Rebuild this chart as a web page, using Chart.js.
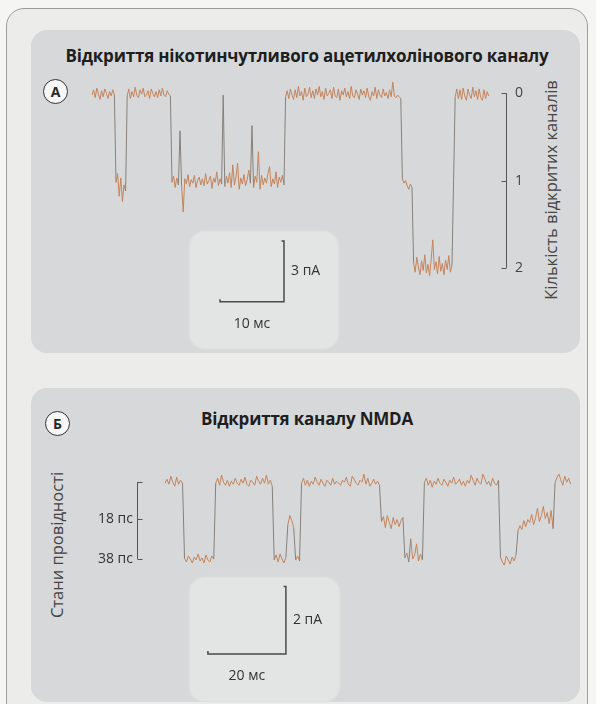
<!DOCTYPE html>
<html lang="uk">
<head>
<meta charset="utf-8">
<title>Відкриття каналів</title>
<script src="https://cdn.jsdelivr.net/npm/chart.js@4.4.1/dist/chart.umd.min.js"></script>
<style>
  html, body { margin: 0; padding: 0; }
  body {
    width: 596px; height: 704px; overflow: hidden; position: relative;
    background: #f5f5f3; color: #2a2a2a;
    font-family: "Open Sans", "Noto Sans", sans-serif;
  }
  .frame {
    position: absolute; left: 6px; top: 8px; width: 580px; height: 720px;
    border: 1px solid #9c9c9c; border-radius: 18px; background: #ececea;
  }
  .panel { position: absolute; background: #d6d8d9; border-radius: 16px; }
  .bar-box { position: absolute; background: #e3e5e5; border-radius: 16px; filter: blur(1px); }
  .title {
    position: absolute; transform: translate(-50%, -50%);
    font-weight: 700; font-size: 17px; letter-spacing: -0.2px; white-space: nowrap; color: #1e1e1e;
  }
  .badge {
    position: absolute; width: 23px; height: 23px; margin: -13px 0 0 -13px;
    border: 1.5px solid #333; border-radius: 50%; background: #f7f7f7;
    font-weight: 700; font-size: 14px; line-height: 23px; text-align: center;
  }
  .side-label {
    position: absolute; transform: translate(-50%, -50%) rotate(-90deg);
    font-size: 16.5px; color: #444; white-space: nowrap;
  }
  canvas { position: absolute; }
</style>
</head>
<body>
<div class="frame"></div>

<div class="panel" style="left:31px; top:30px; width:549px; height:323px;"></div>
<div class="bar-box" style="left:189px; top:231px; width:150px; height:118px;"></div>
<div class="title" style="left:307px; top:55px;">Відкриття нікотинчутливого ацетилхолінового каналу</div>
<div class="badge" style="left:56px; top:92px;">А</div>
<div class="side-label" style="left:550px; top:190px;">Кількість відкритих каналів</div>

<div class="panel" style="left:31px; top:388px; width:549px; height:314px;"></div>
<div class="bar-box" style="left:189px; top:577px; width:151px; height:125px;"></div>
<div class="title" style="left:307px; top:418px;">Відкриття каналу NMDA</div>
<div class="badge" style="left:58px; top:424px;">Б</div>
<div class="side-label" style="left:56px; top:545px;">Стани провідності</div>

<canvas id="chartA" width="500" height="314" style="left:80px; top:48px;"></canvas>
<canvas id="chartB" width="550" height="284" style="left:30px; top:428px;"></canvas>

<script>
// nicotinic ACh channel: number of open channels, one sample every 0.25 ms
const SAMPLE_A_MS = 0.25;
const traceAOpen = [
  0.02, -0.04, 0.05, -0.06, 0.01, 0.07, -0.03, 0.04, -0.05, 0.00,
  0.06, -0.02, 0.03, -0.04, 0.02, 1.02, 0.92, 1.18, 0.97, 1.24,
  1.05, 1.12, 0.03, -0.05, 0.06, -0.02, 0.04, -0.07, 0.02, 0.05,
  -0.04, 0.01, -0.06, 0.04, 0.02, -0.03, 0.06, -0.05, 0.00, 0.04,
  -0.02, 0.05, -0.04, 0.03, -0.06, 0.02, 0.04, -0.03, 0.01, 0.03,
  1.02, 0.95, 1.08, 0.97, 1.05, 0.43, 1.06, 1.36, 0.98, 1.04,
  0.93, 1.07, 0.99, 1.03, 0.94, 1.08, 1.00, 0.96, 1.05, 0.98,
  1.06, 0.92, 1.04, 1.00, 0.95, 1.09, 0.97, 1.02, 0.90, 1.06,
  0.98, 1.04, 0.02, 1.07, 0.95, 1.03, 0.91, 1.08, 0.82, 1.05,
  0.96, 0.80, 1.10, 0.97, 1.04, 0.93, 1.06, 0.99, 0.88, 1.03,
  0.37, 1.08, 0.95, 1.02, 0.67, 1.10, 0.94, 1.05, 0.97, 1.03,
  0.92, 0.84, 1.07, 0.98, 1.04, 0.90, 1.08, 0.96, 1.02, 0.94,
  1.05, 0.04, -0.03, 0.06, -0.05, 0.02, 0.07, -0.04, 0.05, -0.08,
  0.03, -0.02, 0.08, -0.06, 0.04, 0.01, -0.07, 0.05, -0.03, 0.06,
  -0.05, 0.02, -0.08, 0.04, -0.02, 0.07, -0.06, 0.03, 0.00, -0.04,
  0.06, -0.07, 0.03, 0.05, -0.05, 0.08, -0.03, 0.02, -0.06, 0.04,
  -0.02, 0.06, -0.08, 0.03, 0.05, -0.04, 0.01, 0.07, -0.05, 0.02,
  -0.03, 0.05, -0.06, 0.04, 0.08, -0.02, 0.03, -0.07, 0.06, -0.04,
  0.02, 0.05, -0.05, 0.03, -0.01, 0.06, -0.04, 0.04, -0.13, 0.03,
  0.05, 0.02, 0.04, 0.06, 0.98, 1.03, 1.00, 1.06, 1.10, 1.04,
  1.08, 1.94, 2.05, 1.88, 1.99, 2.08, 1.92, 2.03, 1.85, 2.06,
  1.96, 2.09, 1.90, 1.68, 2.02, 1.93, 2.07, 1.87, 2.04, 1.95,
  2.08, 1.91, 2.02, 1.86, 2.05, 1.97, 1.00, 0.04, -0.05, 0.06,
  -0.04, 0.07, -0.06, 0.03, 0.08, -0.05, 0.02, 0.06, -0.07, 0.04,
  -0.03, 0.07, -0.05, 0.05, 0.08, -0.04, 0.06, -0.02, 0.03
];
const channelTicks = [0, 1, 2];

// NMDA channel: conductance state in pS, one sample every 0.5 ms
const SAMPLE_B_MS = 0.5;
const traceBConductance = [
  0.5, -1.5, 1.0, -3.0, 0.0, 2.0, -2.5, 1.0, -1.0, 0.5,
  37.5, 39.5, 36.5, 38.0, 40.0, 37.0, 38.5, 35.5, 39.0, 37.5,
  40.0, 36.0, 38.5, 39.5, 36.5, 38.0, 0.5, -2.0, 1.5, -3.5,
  0.0, 1.5, -1.0, 2.0, -0.5, 1.0, -2.0, 0.5, 1.5, -1.5,
  0.5, -2.5, 1.0, 2.0, -1.0, 0.0, 1.5, -3.0, -0.5, 1.0,
  -2.0, 0.5, -3.5, 1.0, -1.0, 2.0, 38.5, 36.0, 39.5, 35.5,
  38.0, 40.0, 37.0, 21.0, 16.5, 19.0, 22.5, 38.5, 36.5, 39.0,
  0.5, -2.0, 1.5, -1.0, 2.0, -0.5, 1.0, -2.5, 0.0, 1.5,
  -1.5, 0.5, 2.0, -1.0, 0.0, 1.5, -2.0, 1.0, -0.5, 0.5,
  1.5, -1.0, 0.0, -2.5, 1.0, 2.0, -3.0, -1.5, 0.5, 1.5,
  -1.0, 0.0, -4.0, 1.0, -2.0, 2.0, 0.5, -1.5, 1.0, -0.5,
  1.5, 19.5, 17.0, 22.5, 16.5, 20.0, 23.0, 17.5, 21.0, 18.5,
  22.0, 19.0, 17.5, 37.5, 35.0, 39.5, 28.0, 38.0, 36.0, 30.5,
  39.0, 35.5, 38.5, 0.0, -2.0, 1.5, -1.0, 2.5, -0.5, 1.0,
  -2.0, 0.5, 1.5, -1.5, 0.0, 2.0, -1.0, 0.5, -2.5, 1.0,
  0.0, -1.5, 1.5, -0.5, 2.0, -1.0, 0.5, -3.5, -1.0, 1.5,
  -2.0, 0.0, 1.0, -4.0, -1.5, 1.0, -0.5, 2.0, -2.0, 0.5,
  1.5, -1.0, 37.0, 39.5, 41.0, 36.5, 38.5, 40.5, 37.0, 39.0,
  36.0, 24.0, 21.5, 23.5, 19.0, 22.0, 18.5, 20.0, 16.0, 21.0,
  17.5, 13.0, 19.5, 16.5, 12.0, 18.0, 15.0, 20.5, 14.0, 23.0,
  0.5, -2.5, -4.0, -1.0, 1.5, -3.0, 0.0, -2.0, 1.0
];
const conductanceTicks = [18, 38];

// calibration bars
const PA_PER_CHANNEL = 4.3;
const DRIVING_FORCE_MV = 60;
const scaleBarATime = [20, 30];   // ms
const scaleBarACurrent = 3;       // pA
const scaleBarABase = 2.39;       // open channels
const scaleBarBTime = [11, 31];   // ms
const scaleBarBCurrent = 2;       // pA
const scaleBarBBase = 85;         // pS

const NOISE_COLOR = '#c4845c';
const JUMP_COLOR = '#86807b';
const BAR_COLOR = '#4a4a4a';

// builds the L-shaped calibration bar, with the little end ticks
function calibrationBar(time, base, height, tickX, tickY) {
  const top = base - height;
  return [
    { x: time[0], y: base - tickY },
    { x: time[0], y: base },
    { x: time[1], y: base },
    { x: time[1], y: top },
    { x: time[1] - tickX, y: top }
  ];
}

// axis line with short ticks plus the calibration bar captions
const traceMarks = {
  id: 'traceMarks',
  afterDatasetsDraw(chart, args, opts) {
    const { ctx, chartArea } = chart;
    const x = chart.scales.x;
    const y = chart.scales.y;
    const ax = (opts.side === 'right' ? chartArea.right : chartArea.left) + 0.5;
    ctx.save();
    ctx.strokeStyle = '#555';
    ctx.lineWidth = 1;
    ctx.beginPath();
    ctx.moveTo(ax, y.getPixelForValue(opts.range[0]));
    ctx.lineTo(ax, y.getPixelForValue(opts.range[1]));
    opts.marks.forEach(v => {
      const py = Math.round(y.getPixelForValue(v)) + 0.5;
      ctx.moveTo(ax, py);
      ctx.lineTo(ax + opts.tickDir * 5, py);
    });
    ctx.stroke();

    const bar = opts.bar;
    const xl = x.getPixelForValue(bar.time[0]);
    const xr = x.getPixelForValue(bar.time[1]);
    const yb = y.getPixelForValue(bar.base);
    const yt = y.getPixelForValue(bar.base - bar.height);
    ctx.fillStyle = '#333';
    ctx.font = '14px "Open Sans"';
    ctx.textBaseline = 'middle';
    ctx.textAlign = 'left';
    ctx.fillText(bar.currentLabel, xr + 7, (yb + yt) / 2);
    ctx.textAlign = 'center';
    ctx.fillText(bar.timeLabel, (xl + xr) / 2, yb + 22);
    ctx.restore();
  }
};

function traceDataset(values, dt, jump) {
  return {
    data: values.map((v, i) => ({ x: i * dt, y: v })),
    borderColor: NOISE_COLOR,
    borderWidth: 1,
    pointRadius: 0,
    tension: 0,
    segment: {
      borderColor: c => Math.abs(c.p1.parsed.y - c.p0.parsed.y) > jump ? JUMP_COLOR : NOISE_COLOR
    }
  };
}

function barDataset(points) {
  return { data: points, borderColor: BAR_COLOR, borderWidth: 1.5, pointRadius: 0, tension: 0 };
}

const tickFont = { family: 'Open Sans', size: 14 };

// A: nicotinic ACh channel
const barAHeight = scaleBarACurrent / PA_PER_CHANNEL;
new Chart(document.getElementById('chartA'), {
  type: 'line',
  data: {
    datasets: [
      traceDataset(traceAOpen, SAMPLE_A_MS, 0.45),
      barDataset(calibrationBar(scaleBarATime, scaleBarABase, barAHeight, 0.4, 0.03))
    ]
  },
  options: {
    responsive: false,
    animation: false,
    devicePixelRatio: 1,
    layout: { padding: { left: 12, top: 12, bottom: 12, right: 0 } },
    scales: {
      x: { type: 'linear', display: false, min: 0, max: 64.69 },
      y: {
        type: 'linear', position: 'right', reverse: true, min: -0.32, max: 2.88,
        afterFit: s => { s.width = 74; },
        afterBuildTicks: s => { s.ticks = channelTicks.map(v => ({ value: v })); },
        grid: { display: false, drawTicks: false },
        border: { display: false },
        ticks: { padding: 9, color: '#444', font: tickFont }
      }
    },
    plugins: {
      legend: { display: false },
      tooltip: { enabled: false },
      traceMarks: {
        side: 'right', tickDir: -1, range: [0, 2], marks: channelTicks,
        bar: { time: scaleBarATime, base: scaleBarABase, height: barAHeight,
               currentLabel: scaleBarACurrent + ' пА', timeLabel: (scaleBarATime[1] - scaleBarATime[0]) + ' мс' }
      }
    }
  },
  plugins: [traceMarks]
});

// B: NMDA channel, current = conductance x driving force
const barBHeight = scaleBarBCurrent / DRIVING_FORCE_MV * 1000;
new Chart(document.getElementById('chartB'), {
  type: 'line',
  data: {
    datasets: [
      traceDataset(traceBConductance, SAMPLE_B_MS, 10),
      barDataset(calibrationBar(scaleBarBTime, scaleBarBBase, barBHeight, 0.6, 1.5))
    ]
  },
  options: {
    responsive: false,
    animation: false,
    devicePixelRatio: 1,
    layout: { padding: { left: 0, top: 12, bottom: 12, right: 0 } },
    scales: {
      x: { type: 'linear', display: false, min: -7.18, max: 106.4 },
      y: {
        type: 'linear', position: 'left', reverse: true, min: -20.7, max: 107.6,
        afterFit: s => { s.width = 107; },
        afterBuildTicks: s => { s.ticks = conductanceTicks.map(v => ({ value: v })); },
        grid: { display: false, drawTicks: false },
        border: { display: false },
        ticks: { padding: 4, color: '#333', font: tickFont, callback: v => v + ' пс' }
      }
    },
    plugins: {
      legend: { display: false },
      tooltip: { enabled: false },
      traceMarks: {
        side: 'left', tickDir: 1, range: [0, 38], marks: [0].concat(conductanceTicks),
        bar: { time: scaleBarBTime, base: scaleBarBBase, height: barBHeight,
               currentLabel: scaleBarBCurrent + ' пА', timeLabel: (scaleBarBTime[1] - scaleBarBTime[0]) + ' мс' }
      }
    }
  },
  plugins: [traceMarks]
});
</script>
</body>
</html>
